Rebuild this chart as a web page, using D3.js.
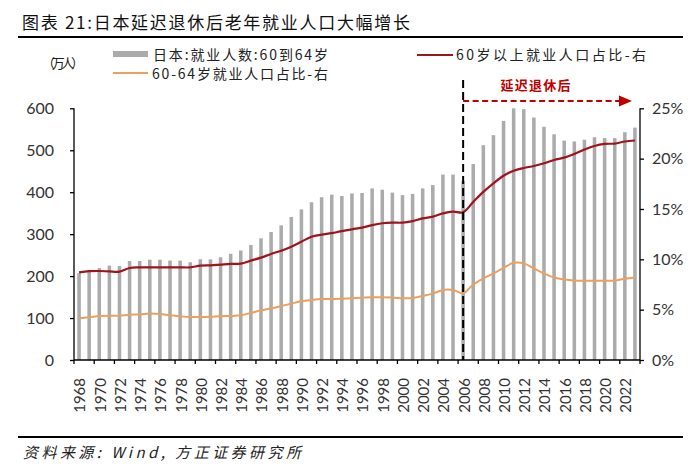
<!DOCTYPE html>
<html><head><meta charset="utf-8">
<script src="https://cdn.jsdelivr.net/npm/d3@7"></script>
<style>
html,body{margin:0;padding:0;background:#fff;}
svg{display:block;}
</style></head>
<body><svg id="c" width="700" height="468"></svg>
<script>
const years = d3.range(1968, 2024);
const employed6064 = [207,211,219,225,224,236,236,239,239,237,237,233,240,240,245,253,261,274,290,305,321,341,359,376,388,394,391,397,398,409,406,399,393,396,409,417,442,442,427,467,512,536,570,600,598,578,556,538,523,521,525,531,529,529,543,554];
const share60plus = [8.7,8.82,8.84,8.8,8.77,9.14,9.2,9.2,9.2,9.2,9.2,9.2,9.37,9.4,9.47,9.54,9.57,9.87,10.17,10.53,10.86,11.26,11.75,12.25,12.45,12.6,12.8,12.98,13.15,13.4,13.58,13.64,13.64,13.8,14.07,14.24,14.57,14.74,14.67,15.7,16.7,17.55,18.3,18.8,19.07,19.27,19.54,19.87,20.1,20.46,20.9,21.26,21.46,21.5,21.7,21.8];
const share6064 = [4.14,4.24,4.37,4.4,4.4,4.5,4.52,4.62,4.57,4.44,4.34,4.27,4.27,4.3,4.35,4.37,4.44,4.67,4.93,5.13,5.36,5.6,5.83,5.96,6.06,6.06,6.09,6.13,6.18,6.23,6.23,6.2,6.13,6.16,6.36,6.59,6.95,6.95,6.62,7.5,8.1,8.6,9.15,9.65,9.6,9.1,8.6,8.2,8.0,7.9,7.88,7.88,7.88,7.9,8.08,8.2];
const leftTicks = [0,100,200,300,400,500,600];
const rightTicks = [0,5,10,15,20,25];
const labelYears = years.filter((d,i)=>i%2===0);

const title = "图表 21:日本延迟退休后老年就业人口大幅增长";
const unitLabel = "（万人）";
const legendBar = "日本:就业人数:60到64岁";
const legendOrange = "60-64岁就业人口占比-右";
const legendRed = "60岁以上就业人口占比-右";
const annotation = "延迟退休后";
const annotationYear = 2006;
const source = "资料来源: Wind, 方正证券研究所";

const svg = d3.select("#c");
const cjk = "'Noto Sans CJK SC','Noto Sans',sans-serif";
const num = "Lato,'Open Sans',sans-serif";
const red = "#A0131D", orange = "#EDA05E", gray = "#ABABAB";

svg.append("rect").attr("width",700).attr("height",468).attr("fill","#fff");

const m = {l:74, r:640, t:108.3, b:360};
const x = d3.scaleBand().domain(years).range([m.l, m.r]).paddingInner(0.65).paddingOuter(0.325);
const yL = d3.scaleLinear().domain([0,600]).range([m.b, m.t]);
const yR = d3.scaleLinear().domain([0,25]).range([m.b, m.t]);
const cx = d => x(d) + x.bandwidth()/2;
const half = (x.step()-x.bandwidth())/2;

// title
svg.append("text").attr("x",22).attr("y",29).attr("font-family",cjk).attr("font-size",17)
  .attr("fill","#111").attr("textLength",388).attr("lengthAdjust","spacing").text(title);
svg.append("line").attr("x1",18).attr("x2",683).attr("y1",37).attr("y2",37).attr("stroke","#000").attr("stroke-width",2);

// legend
svg.append("text").attr("x",42).attr("y",68).attr("font-family",cjk).attr("font-size",13).attr("fill","#222")
  .attr("textLength",42).attr("lengthAdjust","spacing").text(unitLabel);
svg.append("rect").attr("x",113).attr("y",51).attr("width",35).attr("height",6).attr("fill",gray);
svg.append("text").attr("x",153).attr("y",60).attr("font-family",cjk).attr("font-size",14).attr("fill","#222")
  .attr("textLength",175).attr("lengthAdjust","spacing").text(legendBar);
svg.append("line").attr("x1",113).attr("x2",148).attr("y1",73).attr("y2",73).attr("stroke",orange).attr("stroke-width",2);
svg.append("text").attr("x",152).attr("y",78.5).attr("font-family",cjk).attr("font-size",14).attr("fill","#222")
  .attr("textLength",176).attr("lengthAdjust","spacing").text(legendOrange);
svg.append("line").attr("x1",417).attr("x2",453).attr("y1",55).attr("y2",55).attr("stroke",red).attr("stroke-width",2);
svg.append("text").attr("x",456).attr("y",60).attr("font-family",cjk).attr("font-size",14).attr("fill","#222")
  .attr("textLength",190).attr("lengthAdjust","spacing").text(legendRed);

// bars
svg.append("g").selectAll("rect").data(years).join("rect")
  .attr("x",d=>x(d)).attr("width",x.bandwidth())
  .attr("y",(d,i)=>yL(employed6064[i])).attr("height",(d,i)=>yL(0)-yL(employed6064[i]))
  .attr("fill",gray);

// lines
const curve = d3.curveCatmullRom.alpha(0.5);
const lineGen = arr => d3.line().x((d,i)=>cx(years[i])).y(d=>yR(d)).curve(curve)(arr);
svg.append("path").attr("d",lineGen(share6064)).attr("fill","none").attr("stroke",orange).attr("stroke-width",2);
svg.append("path").attr("d",lineGen(share60plus)).attr("fill","none").attr("stroke",red).attr("stroke-width",2.2);

// axes
const axL = svg.append("g").attr("transform",`translate(${m.l},0)`)
  .call(d3.axisLeft(yL).tickValues(leftTicks).tickSize(4).tickPadding(16));
const axR = svg.append("g").attr("transform",`translate(${m.r},0)`)
  .call(d3.axisRight(yR).tickValues(rightTicks).tickSize(4).tickPadding(8).tickFormat(d=>d+"%"));
[axL,axR].forEach(g=>{
  g.selectAll("path,line").attr("stroke","#000").attr("stroke-width",1.3);
  g.selectAll("text").attr("font-family",num).attr("font-size",16).attr("fill","#333");
});
axL.select(".domain").attr("d",`M0,${m.b}V${m.t}`);
axR.select(".domain").attr("d",`M0,${m.b}V${m.t}`);

// x axis
const gx = svg.append("g");
gx.append("line").attr("x1",m.l).attr("x2",m.r).attr("y1",m.b).attr("y2",m.b).attr("stroke","#000").attr("stroke-width",1.3);
const tickYears = years.filter((d,i)=>i%2===0);
gx.selectAll("line.tk").data(tickYears.concat(["end"])).join("line").attr("class","tk")
  .attr("x1",d=>d==="end"?m.r:x(d)-half).attr("x2",d=>d==="end"?m.r:x(d)-half)
  .attr("y1",m.b).attr("y2",m.b+4).attr("stroke","#000").attr("stroke-width",1.3);
gx.selectAll("text").data(labelYears).join("text")
  .attr("transform",d=>`translate(${cx(d)+1},${m.b+18}) rotate(-90)`)
  .attr("text-anchor","end").attr("dy","0.36em")
  .attr("font-family",num).attr("font-size",15).attr("fill","#333").text(d=>d);

// annotation
const ax = cx(annotationYear);
svg.append("line").attr("x1",ax).attr("x2",ax).attr("y1",80).attr("y2",m.b)
  .attr("stroke","#000").attr("stroke-width",2).attr("stroke-dasharray","8,4");
svg.append("line").attr("x1",ax).attr("x2",m.r-19).attr("y1",101).attr("y2",101)
  .attr("stroke","#C00000").attr("stroke-width",2).attr("stroke-dasharray","6,3.5");
svg.append("path").attr("d",`M${m.r-21},95.5L${m.r-8},101L${m.r-21},106.5Z`).attr("fill","#C00000");
svg.append("text").attr("x",(ax+m.r)/2-16).attr("y",90).attr("text-anchor","middle")
  .attr("font-family",cjk).attr("font-size",13).attr("font-weight","bold").attr("fill","#C00000")
  .attr("textLength",70).attr("lengthAdjust","spacing").text(annotation);

// footer
svg.append("line").attr("x1",18).attr("x2",683).attr("y1",437).attr("y2",437).attr("stroke","#000").attr("stroke-width",2);
svg.append("text").attr("x",23).attr("y",458).attr("font-family",cjk).attr("font-size",15).attr("font-style","italic")
  .attr("fill","#222").attr("textLength",278).attr("lengthAdjust","spacing").text(source);
</script></body></html>
